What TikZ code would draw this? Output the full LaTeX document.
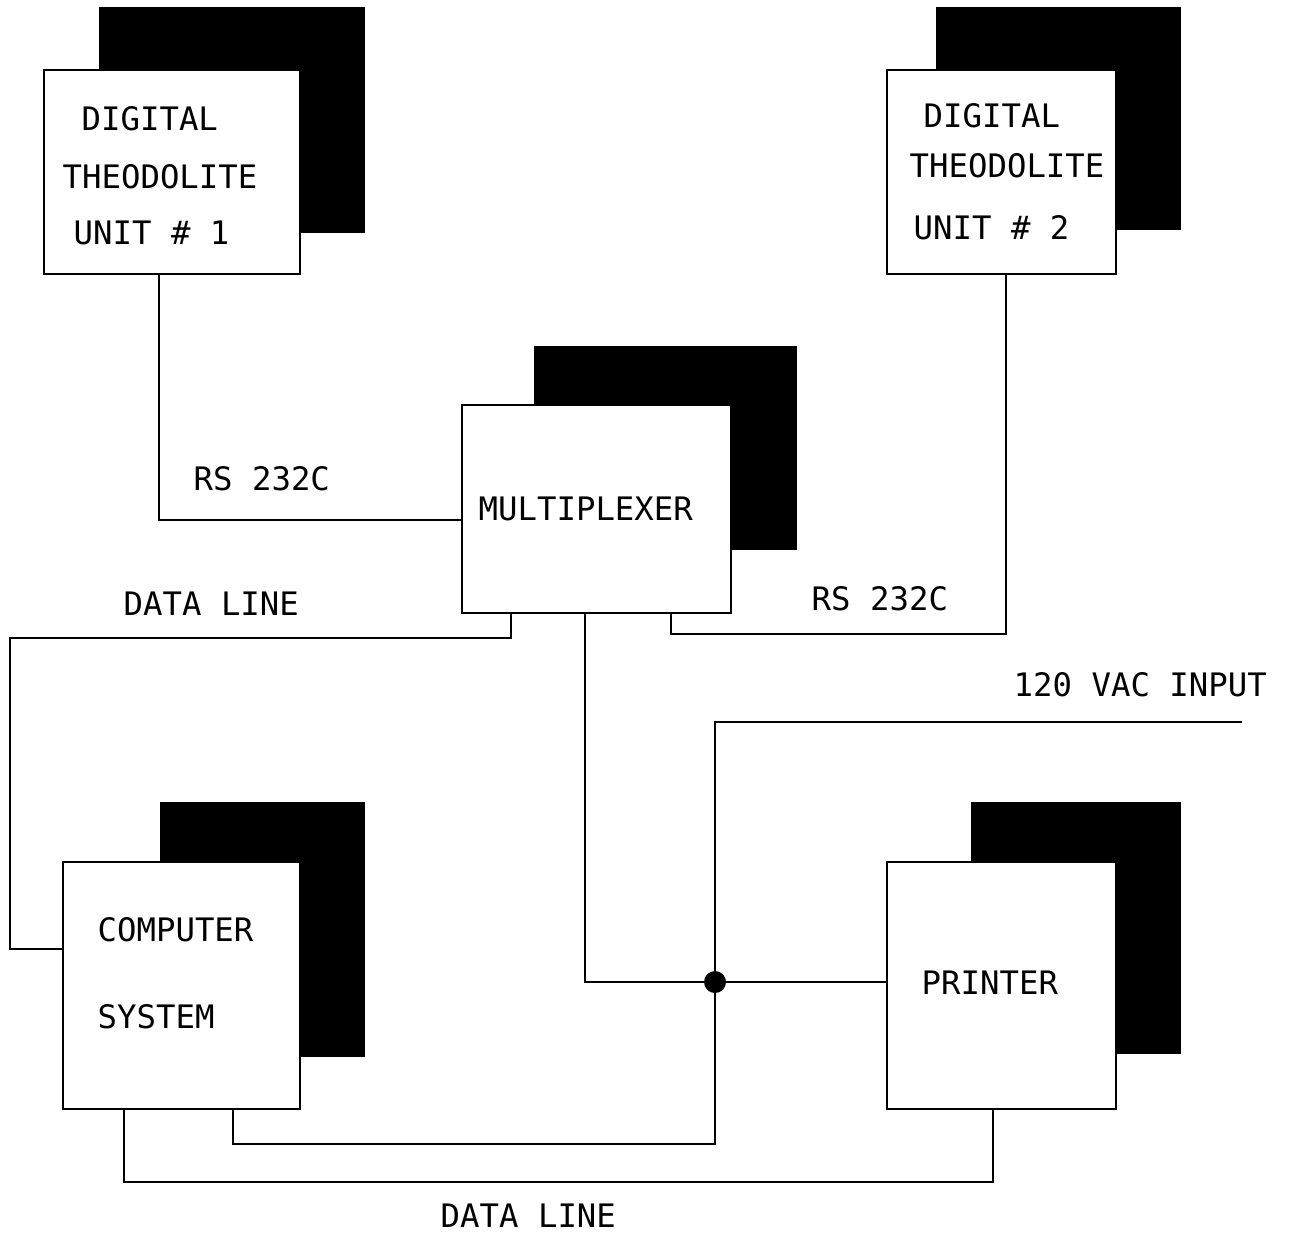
\documentclass[tikz,border=0pt]{standalone}
\usepackage{fontspec}
\setmonofont{DejaVu Sans Mono}
\begin{document}
\begin{tikzpicture}[
    unitbox/.style={draw, fill=white, line width=0.6pt, outer sep=0pt, inner sep=0pt, anchor=north west},
    backbox/.style={fill=black},
    lbl/.style={font=\ttfamily\fontsize{9.2}{11}\selectfont, inner sep=0pt, anchor=base west},
    wire/.style={line width=0.6pt}
  ]
  \useasboundingbox (0,0) rectangle (13,-12.34);

  % Theodolite unit 1
  \fill[backbox] (0.99,-0.07) rectangle (3.65,-2.33);
  \node[unitbox, minimum width=2.56cm, minimum height=2.04cm] (thd1) at (0.44,-0.70) {};
  \node[lbl] (thd1a) at (0.81,-1.30) {DIGITAL};
  \node[lbl] (thd1b) at (0.62,-1.88) {THEODOLITE};
  \node[lbl] (thd1c) at (0.73,-2.44) {UNIT \# 1};

  % Theodolite unit 2
  \fill[backbox] (9.36,-0.07) rectangle (11.81,-2.30);
  \node[unitbox, minimum width=2.29cm, minimum height=2.04cm] (thd2) at (8.87,-0.70) {};
  \node[lbl] (thd2a) at (9.23,-1.27) {DIGITAL};
  \node[lbl] (thd2b) at (9.09,-1.77) {THEODOLITE};
  \node[lbl] (thd2c) at (9.13,-2.39) {UNIT \# 2};

  % Multiplexer
  \fill[backbox] (5.34,-3.46) rectangle (7.97,-5.50);
  \node[unitbox, minimum width=2.69cm, minimum height=2.08cm] (mux) at (4.62,-4.05) {};
  \node[lbl] (muxa) at (4.78,-5.20) {MULTIPLEXER};

  % Computer system
  \fill[backbox] (1.60,-8.02) rectangle (3.65,-10.57);
  \node[unitbox, minimum width=2.37cm, minimum height=2.47cm] (comp) at (0.63,-8.62) {};
  \node[lbl] (compa) at (0.97,-9.41) {COMPUTER};
  \node[lbl] (compb) at (0.97,-10.28) {SYSTEM};

  % Printer
  \fill[backbox] (9.71,-8.02) rectangle (11.81,-10.54);
  \node[unitbox, minimum width=2.29cm, minimum height=2.47cm] (prn) at (8.87,-8.62) {};
  \node[lbl] (prna) at (9.21,-9.94) {PRINTER};

  % RS 232C links
  \draw[wire] ([xshift=-1.3mm]thd1.south) |- ([yshift=-1.1mm]mux.west);
  \node[lbl] (rs1) at (1.93,-4.90) {RS 232C};
  \draw[wire] ([xshift=0.45mm]thd2.south) -- ++(0,-3.60) -| ([xshift=7.45mm]mux.south);
  \node[lbl] (rs2) at (8.11,-6.10) {RS 232C};

  % Data line to the computer
  \draw[wire] ([xshift=-8.55mm]mux.south) -- ++(0,-0.25) -- ++(-5.01,0) |- ([yshift=3.65mm]comp.west);
  \node[lbl] (dl1) at (1.23,-6.15) {DATA LINE};

  % Junction and power
  \coordinate (jct) at (7.15,-9.82);
  \coordinate (vac) at (12.42,-7.22);
  \draw[wire] ([xshift=-1.15mm]mux.south) |- (jct) -- (prn.west |- jct);
  \draw[wire] (vac) -| ([yshift=-16.2mm]jct) -| ([xshift=5.15mm]comp.south);
  \fill (jct) circle (0.11);
  \node[lbl] (pwr) at (10.13,-6.96) {120 VAC INPUT};

  % Data line to the printer
  \draw[wire] ([xshift=-5.75mm]comp.south) -- ++(0,-0.73) -| ([xshift=-0.85mm]prn.south);
  \node[lbl] (dl2) at (4.40,-12.27) {DATA LINE};
\end{tikzpicture}
\end{document}
